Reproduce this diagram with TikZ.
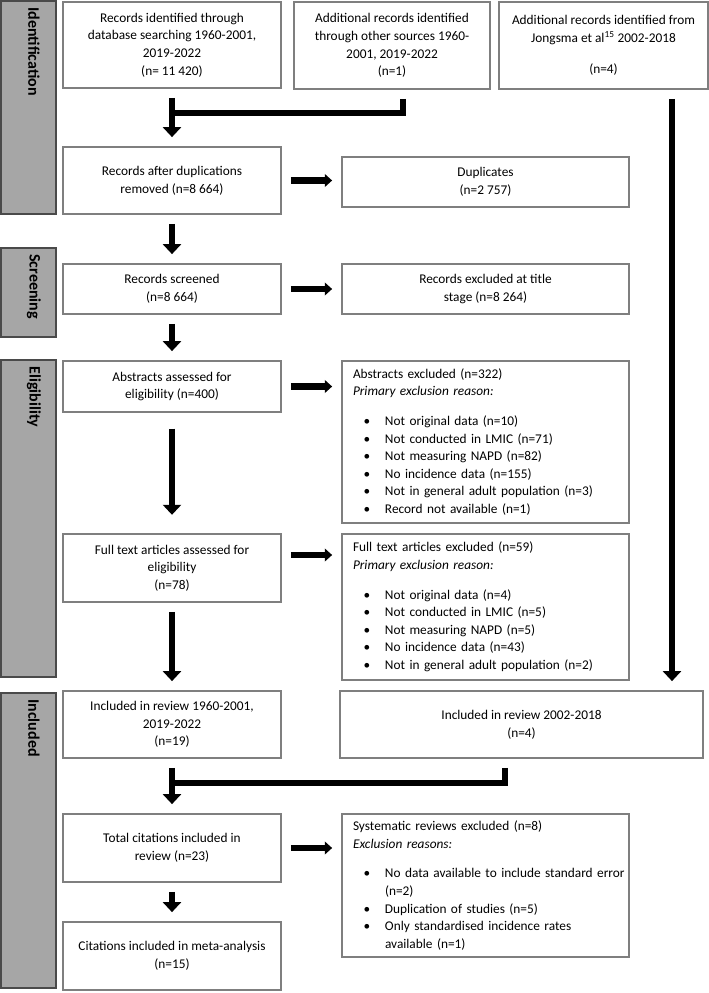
\documentclass[tikz,border=0pt]{standalone}
\usepackage{fontspec}
\setmainfont{Carlito}
\usetikzlibrary{arrows.meta,positioning}
\definecolor{sidegray}{HTML}{A6A6A6}
\definecolor{edgegray}{HTML}{7F7F7F}
\definecolor{sideedge}{HTML}{4A4A4A}
\tikzstyle{box}=[draw=edgegray,line width=0.8pt,inner sep=4pt,align=center,font=\fontsize{10}{13.2}\selectfont]
\tikzstyle{lcol}=[box,minimum width=163.5pt]
\tikzstyle{rcol}=[box,align=left,text width=198.75pt,inner xsep=8.25pt]
\tikzstyle{side}=[draw=sideedge,fill=sidegray,line width=0.8pt,minimum width=41.25pt]
\tikzstyle{sidelab}=[font=\fontsize{12}{14}\selectfont\bfseries,rotate=-90,anchor=west,inner sep=0pt]
\tikzstyle{flow}=[line width=4.75pt,-{Triangle[width=13.5pt,length=7.5pt]},shorten <=7pt,shorten >=7pt]
\tikzstyle{hflow}=[flow,-{Triangle[width=9.5pt,length=5.5pt]}]
\tikzstyle{bar}=[line width=4.75pt,shorten <=7pt]
\newcommand{\itm}[1]{\hspace*{8pt}\makebox[16pt][l]{\textbullet}\mbox{#1}}
\newcommand{\cont}[1]{\hspace*{24pt}#1}
\begin{document}
\begin{tikzpicture}[x=0.75pt,y=-0.75pt]
  \useasboundingbox (0,0) rectangle (709,993);
  \node[side,minimum height=159.75pt] (s_id) at (28.5,107.5) {};
  \node[sidelab] (l_id) at ([xshift=4pt,yshift=-5pt]s_id.north) {Identification};
  \node[side,minimum height=66.75pt] (s_scr) at (28.5,292.5) {};
  \node[sidelab] (l_scr) at ([xshift=4pt,yshift=-5pt]s_scr.north) {Screening};
  \node[side,minimum height=237.75pt] (s_elig) at (28.5,518.5) {};
  \node[sidelab] (l_elig) at ([xshift=4pt,yshift=-5pt]s_elig.north) {Eligibility};
  \node[side,minimum height=221.25pt] (s_inc) at (28.5,840.5) {};
  \node[sidelab] (l_inc) at ([xshift=4pt,yshift=-5pt]s_inc.north) {Included};

  \node[lcol,minimum height=64.5pt] (rec_db) at (172,45) {Records identified through\\database searching 1960-2001,\\2019-2022\\(n= 11 420)};
  \node[box,minimum width=147pt,minimum height=65.25pt] (rec_other) at (392,45.5) {Additional records identified\\through other sources 1960-\\2001, 2019-2022\\(n=1)};
  \node[box,minimum width=156.75pt,minimum height=65.25pt] (rec_jong) at (603.5,45.5) {Additional records identified from\\Jongsma et al\textsuperscript{15} 2002-2018\\[10pt](n=4)};
  \node[lcol,minimum height=50.25pt] (after_dup) at (172,180.5) {Records after duplications\\removed (n=8 664)};
  \node[box,minimum width=215.25pt,minimum height=37.5pt] (dup) at (485.5,182) {Duplicates\\(n=2 757)};
  \node[lcol,minimum height=37.5pt] (screened) at (172,289) {Records screened\\(n=8 664)};
  \node[box,minimum width=215.25pt,minimum height=37.5pt] (ex_title) at (485.5,289) {Records excluded at title\\stage (n=8 264)};
  \node[lcol,minimum height=38.25pt] (abstr) at (172,386.5) {Abstracts assessed for\\eligibility (n=400)};
  \node[rcol,minimum height=121.5pt] (abstr_ex) at (485.5,442) {Abstracts excluded (n=322)\\\textit{Primary exclusion reason:}\\[9pt]\itm{Not original data (n=10)}\\\itm{Not conducted in LMIC (n=71)}\\\itm{Not measuring NAPD (n=82)}\\\itm{No incidence data (n=155)}\\\itm{Not in general adult population (n=3)}\\\itm{Record not available (n=1)}};
  \node[lcol,minimum height=51pt] (full) at (172,568) {Full text articles assessed for\\eligibility\\(n=78)};
  \node[rcol,minimum height=109.5pt] (full_ex) at (485.5,607) {Full text articles excluded (n=59)\\\textit{Primary exclusion reason:}\\[9pt]\itm{Not original data (n=4)}\\\itm{Not conducted in LMIC (n=5)}\\\itm{Not measuring NAPD (n=5)}\\\itm{No incidence data (n=43)}\\\itm{Not in general adult population (n=2)}};
  \node[lcol,minimum height=50.25pt] (inc_a) at (172,724.5) {Included in review 1960-2001,\\2019-2022\\(n=19)};
  \node[box,minimum width=272.25pt,minimum height=50.25pt] (inc_b) at (521.5,724.5) {Included in review 2002-2018\\(n=4)};
  \node[lcol,minimum height=51pt] (total) at (172,848) {Total citations included in\\review (n=23)};
  \node[rcol,minimum height=107.25pt] (sysrev) at (485.5,885.5) {Systematic reviews excluded (n=8)\\\textit{Exclusion reasons:}\\[9pt]\itm{No data available to include standard error}\\\cont{(n=2)}\\\itm{Duplication of studies (n=5)}\\\itm{Only standardised incidence rates}\\\cont{available (n=1)}};
  \node[lcol,minimum height=51pt] (meta) at (172,956) {Citations included in meta-analysis\\(n=15)};

  \coordinate (m_a) at (403,113);
  \coordinate (m_l) at (672,0);
  \coordinate (m_b) at (505,783);
  \coordinate (f_o) at ([yshift=9.75pt]full.east);
  \draw[bar] (rec_other.south -| m_a) -- (m_a) -- (m_a -| rec_db);
  \draw[flow] (rec_db) -- (after_dup);
  \draw[flow] (rec_jong.south -| m_l) -- (inc_b.north -| m_l);
  \draw[hflow] (after_dup.east) -- (after_dup.east -| dup.west);
  \draw[flow] (after_dup) -- (screened);
  \draw[hflow] (screened) -- (ex_title);
  \draw[flow] (screened) -- (abstr);
  \draw[hflow] (abstr.east) -- (abstr.east -| abstr_ex.west);
  \draw[flow,shorten <=12pt,shorten >=14pt] (abstr) -- (full);
  \draw[hflow] (f_o) -- (f_o -| full_ex.west);
  \draw[flow] (full) -- (inc_a);
  \draw[bar] (inc_b.south -| m_b) -- (m_b) -- (m_b -| inc_a);
  \draw[flow] (inc_a) -- (total);
  \draw[hflow] (total.east) -- (total.east -| sysrev.west);
  \draw[flow] (total) -- (meta);
\end{tikzpicture}
\end{document}
